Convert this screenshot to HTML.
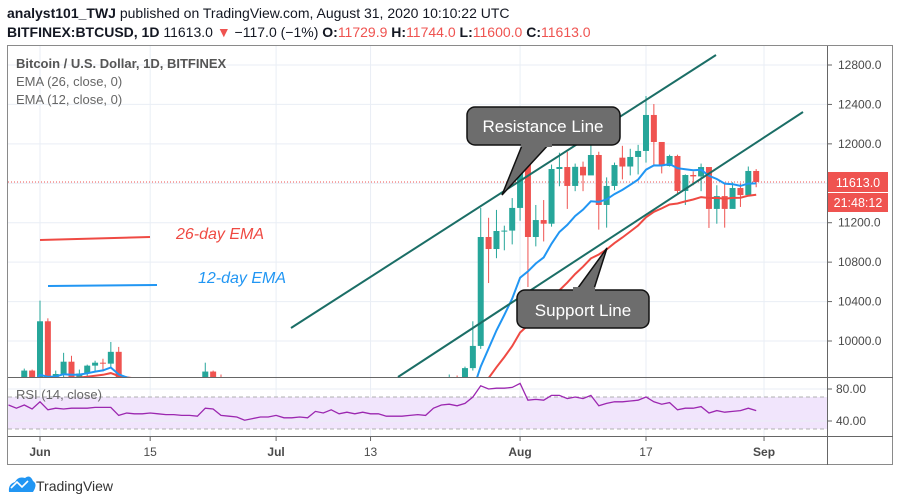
<!DOCTYPE html>
<html><head><meta charset="utf-8"><style>
html,body{margin:0;padding:0;background:#fff;}
body{width:900px;height:504px;overflow:hidden;font-family:"Liberation Sans",sans-serif;}
svg{display:block}
</style></head><body>
<svg id="chart" width="900" height="504" viewBox="0 0 900 504" xmlns="http://www.w3.org/2000/svg">
<defs><clipPath id="mainClip"><rect x="8" y="47" width="819" height="330"/></clipPath>
<clipPath id="rsiClip"><rect x="8" y="378" width="819" height="58"/></clipPath></defs>
<text x="7" y="18" font-size="14" fill="#131722"><tspan font-weight="bold">analyst101_TWJ</tspan> published on TradingView.com, August 31, 2020 10:10:22 UTC</text>
<text x="7" y="37" font-size="14" fill="#131722"><tspan font-weight="bold">BITFINEX:BTCUSD, 1D</tspan> 11613.0 <tspan fill="#ef5350">▼</tspan> −117.0 (−1%) <tspan font-weight="bold">O:</tspan><tspan fill="#ef5350">11729.9</tspan> <tspan font-weight="bold">H:</tspan><tspan fill="#ef5350">11744.0</tspan> <tspan font-weight="bold">L:</tspan><tspan fill="#ef5350">11600.0</tspan> <tspan font-weight="bold">C:</tspan><tspan fill="#ef5350">11613.0</tspan></text>
<g id="grid"></g>
<g id="rsiBg"></g>
<g id="series" clip-path="url(#mainClip)"></g>
<g id="rsiSeries" clip-path="url(#rsiClip)"></g>
<g id="frame">
<rect x="7.5" y="45.5" width="885" height="419" fill="none" stroke="#8a8a8a"/>
<line x1="827.5" y1="46" x2="827.5" y2="465" stroke="#666"/>
<line x1="8" y1="377.5" x2="893" y2="377.5" stroke="#666"/>
<line x1="8" y1="436.5" x2="893" y2="436.5" stroke="#666"/>
</g>
<g id="axes"></g>
<g>
<line x1="291" y1="328" x2="716" y2="55" stroke="#1b6e66" stroke-width="2"/>
<line x1="398" y1="377" x2="803" y2="112" stroke="#1b6e66" stroke-width="2"/>
<polygon points="523,143 550,143 502,195" fill="#6d6d6d" stroke="#111" stroke-width="1.5"/>
<rect x="467" y="107" width="153" height="38" rx="8" fill="#6d6d6d" stroke="#111" stroke-width="1.5"/>
<rect x="521" y="142" width="31" height="5" fill="#6d6d6d"/>
<text x="543" y="132" font-size="17" fill="#fff" text-anchor="middle">Resistance Line</text>
<polygon points="575,292 607,248 593,292" fill="#6d6d6d" stroke="#111" stroke-width="1.5"/>
<rect x="517" y="290" width="132" height="38" rx="8" fill="#6d6d6d" stroke="#111" stroke-width="1.5"/>
<rect x="573" y="287" width="22" height="5" fill="#6d6d6d"/>
<text x="583" y="316" font-size="17" fill="#fff" text-anchor="middle">Support Line</text>
<line x1="40" y1="240" x2="150" y2="237" stroke="#ef4a43" stroke-width="2"/>
<text x="176" y="239" font-size="16" font-style="italic" fill="#ef4a43">26-day EMA</text>
<line x1="48" y1="286" x2="157" y2="285" stroke="#2196f3" stroke-width="2"/>
<text x="198" y="283" font-size="16" font-style="italic" fill="#2196f3">12-day EMA</text>
</g>
<text x="16" y="68" font-size="13" font-weight="bold" fill="#555">Bitcoin / U.S. Dollar, 1D, BITFINEX</text>
<text x="16" y="86" font-size="13" fill="#666">EMA (26, close, 0)</text>
<text x="16" y="104" font-size="13" fill="#666">EMA (12, close, 0)</text>
<text x="16" y="399" font-size="13" fill="#666">RSI (14, close)</text>
<rect x="828" y="172" width="60" height="20" fill="#ef5350"/>
<text x="858" y="187" font-size="12.5" fill="#fff" text-anchor="middle">11613.0</text>
<rect x="828" y="193" width="60" height="19" fill="#ef5350"/>
<text x="858" y="207" font-size="12.5" fill="#fff" text-anchor="middle">21:48:12</text>
<g>
<path d="M9,492 Q8,484 15,482 Q18,476 25,478 Q30,474 33,481 Q38,484 33,492 Z" fill="#2196f3"/>
<polyline points="11,488 17,482 22,487 28,481" fill="none" stroke="#fff" stroke-width="1.6"/>
<text x="36" y="491" font-size="14" fill="#333">TradingView</text>
</g>
</svg>
<script>
const dates0 = "2020-05-28";
const openP = [9520,9580,9420,9700,9450,10200,9520,9665,9790,9620,9670,9750,9780,9770,9890,9280,9470,9470,9340,9430,9520,9460,9380,9300,9360,9290,9690,9630,9290,9250,9170,9010,9120,9190,9140,9240,9090,9060,9140,9080,9350,9260,9430,9240,9290,9240,9310,9240,9260,9200,9130,9160,9180,9210,9160,9390,9540,9610,9550,9725,9950,11055,10933,11116,11120,11350,11806,11055,11227,11190,11745,11765,11573,11767,11680,11887,11380,11573,11860,11770,11867,11928,12293,12019,11775,11877,11522,11684,11670,11765,11340,11470,11340,11552,11480,11725];
const highP = [9620,9600,9720,9710,10410,10230,9700,9880,9850,9710,9760,9800,9820,9990,9940,9560,9500,9480,9500,9590,9550,9470,9390,9400,9420,9780,9700,9660,9320,9290,9200,9210,9240,9200,9280,9270,9130,9190,9180,9380,9370,9450,9440,9320,9300,9340,9350,9290,9280,9220,9190,9220,9230,9220,9420,9560,9660,9650,9740,10200,11350,11250,11330,11170,11450,11860,12090,11380,11430,11790,11910,11920,11800,11820,12070,11920,11660,11810,11980,11950,11990,12485,12404,11880,11890,11890,11690,11720,11800,11760,11580,11590,11610,11600,11770,11744];
const lowP = [9350,9330,9350,9380,9420,9400,9460,9520,9570,9540,9550,9680,9690,9720,9200,9250,9400,9240,8990,9360,9340,9270,9200,9230,9240,9280,9570,9200,8990,9040,8950,8980,9050,9100,9100,9020,9030,9040,8950,9050,9210,9230,9180,9150,9180,9150,9200,9220,9160,9060,9100,9130,9120,9100,9150,9350,9500,9420,9530,9700,9920,10588,10840,10920,10980,11220,10548,10960,11010,11160,11570,11340,11520,11520,11700,11130,11150,11530,11640,11680,11690,11810,11780,11700,11770,11500,11380,11580,11520,11147,11190,11150,11520,11360,11470,11560];
const closeP = [9580,9420,9700,9450,10200,9520,9665,9790,9620,9670,9750,9780,9770,9890,9280,9470,9470,9340,9430,9520,9460,9380,9300,9360,9290,9690,9630,9290,9250,9170,9010,9120,9190,9140,9240,9090,9060,9140,9080,9350,9260,9430,9240,9290,9240,9310,9240,9260,9200,9130,9160,9180,9210,9160,9390,9540,9610,9550,9725,9950,11055,10933,11116,11120,11350,11806,11055,11227,11190,11745,11765,11573,11767,11680,11887,11380,11573,11785,11770,11867,11928,12293,12019,11775,11877,11522,11684,11670,11765,11340,11470,11340,11552,11480,11725,11613];
const rsiVals = [60,56,60,55,64,54,56,55,56,56,56,57,57,57,47,50,49,49,50,49,48,48,47,47,46,56,55,47,46,45,41,43,45,45,47,44,44,45,44,52,50,54,49,51,49,51,49,49,46,46,46,47,48,47,56,60,61,59,62,70,84,80,81,81,82,87,66,67,66,72,72,68,70,68,72,59,62,64,64,65,66,70,64,61,63,54,56,56,58,50,53,51,52,53,56,53];
const priceTicks = [10000,10400,10800,11200,11600,12000,12400,12800];
const priceTickLabels = ["10000.0","10400.0","10800.0","11200.0",null,"12000.0","12400.0","12800.0"];
const rsiTicks = [80,40];
const timeTickDays = [4,18,34,46,65,81,96];
const timeTickLabels = ["Jun","15","Jul","13","Aug","17","Sep"];
const timeTickBold = [true,false,true,false,true,false,true];

const NS="http://www.w3.org/2000/svg";
const dayOffset=-4; // first bar is 4 days before Jun 1
function xDay(i){return 40+(i+dayOffset)*7.87;}
function yPrice(p){return 65+(12800-p)*0.09857;}
function yRsi(v){return 389+(80-v)*0.8;}
function mk(tag,attrs,parent){const e=document.createElementNS(NS,tag);for(const k in attrs)e.setAttribute(k,attrs[k]);parent.appendChild(e);return e;}
const grid=document.getElementById('grid'),series=document.getElementById('series'),rsiG=document.getElementById('rsiSeries'),axes=document.getElementById('axes'),rsiBg=document.getElementById('rsiBg');
// grid
priceTicks.forEach(function(p){const y=yPrice(p);const l=mk('line',{x1:8,x2:827,y1:y,y2:y,stroke:'#e9eef5'},grid);

});
timeTickDays.forEach(function(d){const x=xDay(d);const l=mk('line',{x1:x,x2:x,y1:46,y2:436,stroke:'#e9eef5'},grid);

});
// rsi band
const band=mk('rect',{x:8,y:yRsi(70),width:819,height:yRsi(30)-yRsi(70),fill:'#f1e5fc'},rsiBg);


[70,30].forEach(function(v){mk('line',{x1:8,x2:827,y1:yRsi(v),y2:yRsi(v),stroke:'#b0b0b0','stroke-dasharray':'4,3'},rsiBg);});
rsiTicks.forEach(function(v){mk('line',{x1:8,x2:827,y1:yRsi(v),y2:yRsi(v),stroke:'#e9eef5'},rsiBg);
const t=mk('text',{x:836,y:yRsi(v)+4,'font-size':12,fill:'#4a4a4a'},axes);t.textContent=v.toFixed(2);


mk('line',{x1:827,x2:832,y1:yRsi(v),y2:yRsi(v),stroke:'#666'},axes);});
// price axis
priceTicks.forEach(function(p,i){if(!priceTickLabels[i])return;const y=yPrice(p);
mk('line',{x1:827,x2:832,y1:y,y2:y,stroke:'#666'},axes);
const t=mk('text',{x:838,y:y+4,'font-size':12,fill:'#4a4a4a'},axes);t.textContent=priceTickLabels[i];

});
// time axis
timeTickDays.forEach(function(d,i){const x=xDay(d);
mk('line',{x1:x,x2:x,y1:436,y2:441,stroke:'#666'},axes);
const t=mk('text',{x:x,y:456,'font-size':12,fill:'#4a4a4a','text-anchor':'middle','font-weight':timeTickBold[i]?'bold':'normal'},axes);t.textContent=timeTickLabels[i];

});
// last price dotted line
const lp=mk('line',{x1:8,x2:827,y1:yPrice(closeP[closeP.length-1]),y2:yPrice(closeP[closeP.length-1]),stroke:'#ef5350','stroke-dasharray':'1,2','stroke-width':1},series);


// candles
closeP.forEach(function(c,i){const o=openP[i],h=highP[i],l=lowP[i];const up=c>=o;const col=up?'#26a69a':'#ef5350';const x=xDay(i);
const w=mk('line',{x1:x,x2:x,y1:yPrice(h),y2:yPrice(l),stroke:col,'stroke-width':1},series);


const top=yPrice(Math.max(o,c)),bot=yPrice(Math.min(o,c));
const b=mk('rect',{x:x-3,y:top,width:6,height:Math.max(1,bot-top),fill:col},series);

});
// EMAs
function ema(arr,n){const k=2/(n+1);const out=[];let e=arr[0];arr.forEach(function(v,i){e=i===0?v:v*k+e*(1-k);out.push(e);});return out;}
function drawLine(vals,col,name,parent,yf){const d=vals.map(function(v,i){return (i?'L':'M')+xDay(i).toFixed(1)+','+yf(v).toFixed(1);}).join('');
const p=mk('path',{d:d,fill:'none',stroke:col,'stroke-width':2},parent);

return p;}
drawLine(ema(closeP,26),'#ef4a43','ema26-line',series,yPrice);
drawLine(ema(closeP,12),'#2196f3','ema12-line',series,yPrice);
const rl=drawLine(rsiVals,'#9c27b0','rsi-line',rsiG,yRsi);rl.setAttribute('stroke-width','1.3');
</script>
</body></html>
